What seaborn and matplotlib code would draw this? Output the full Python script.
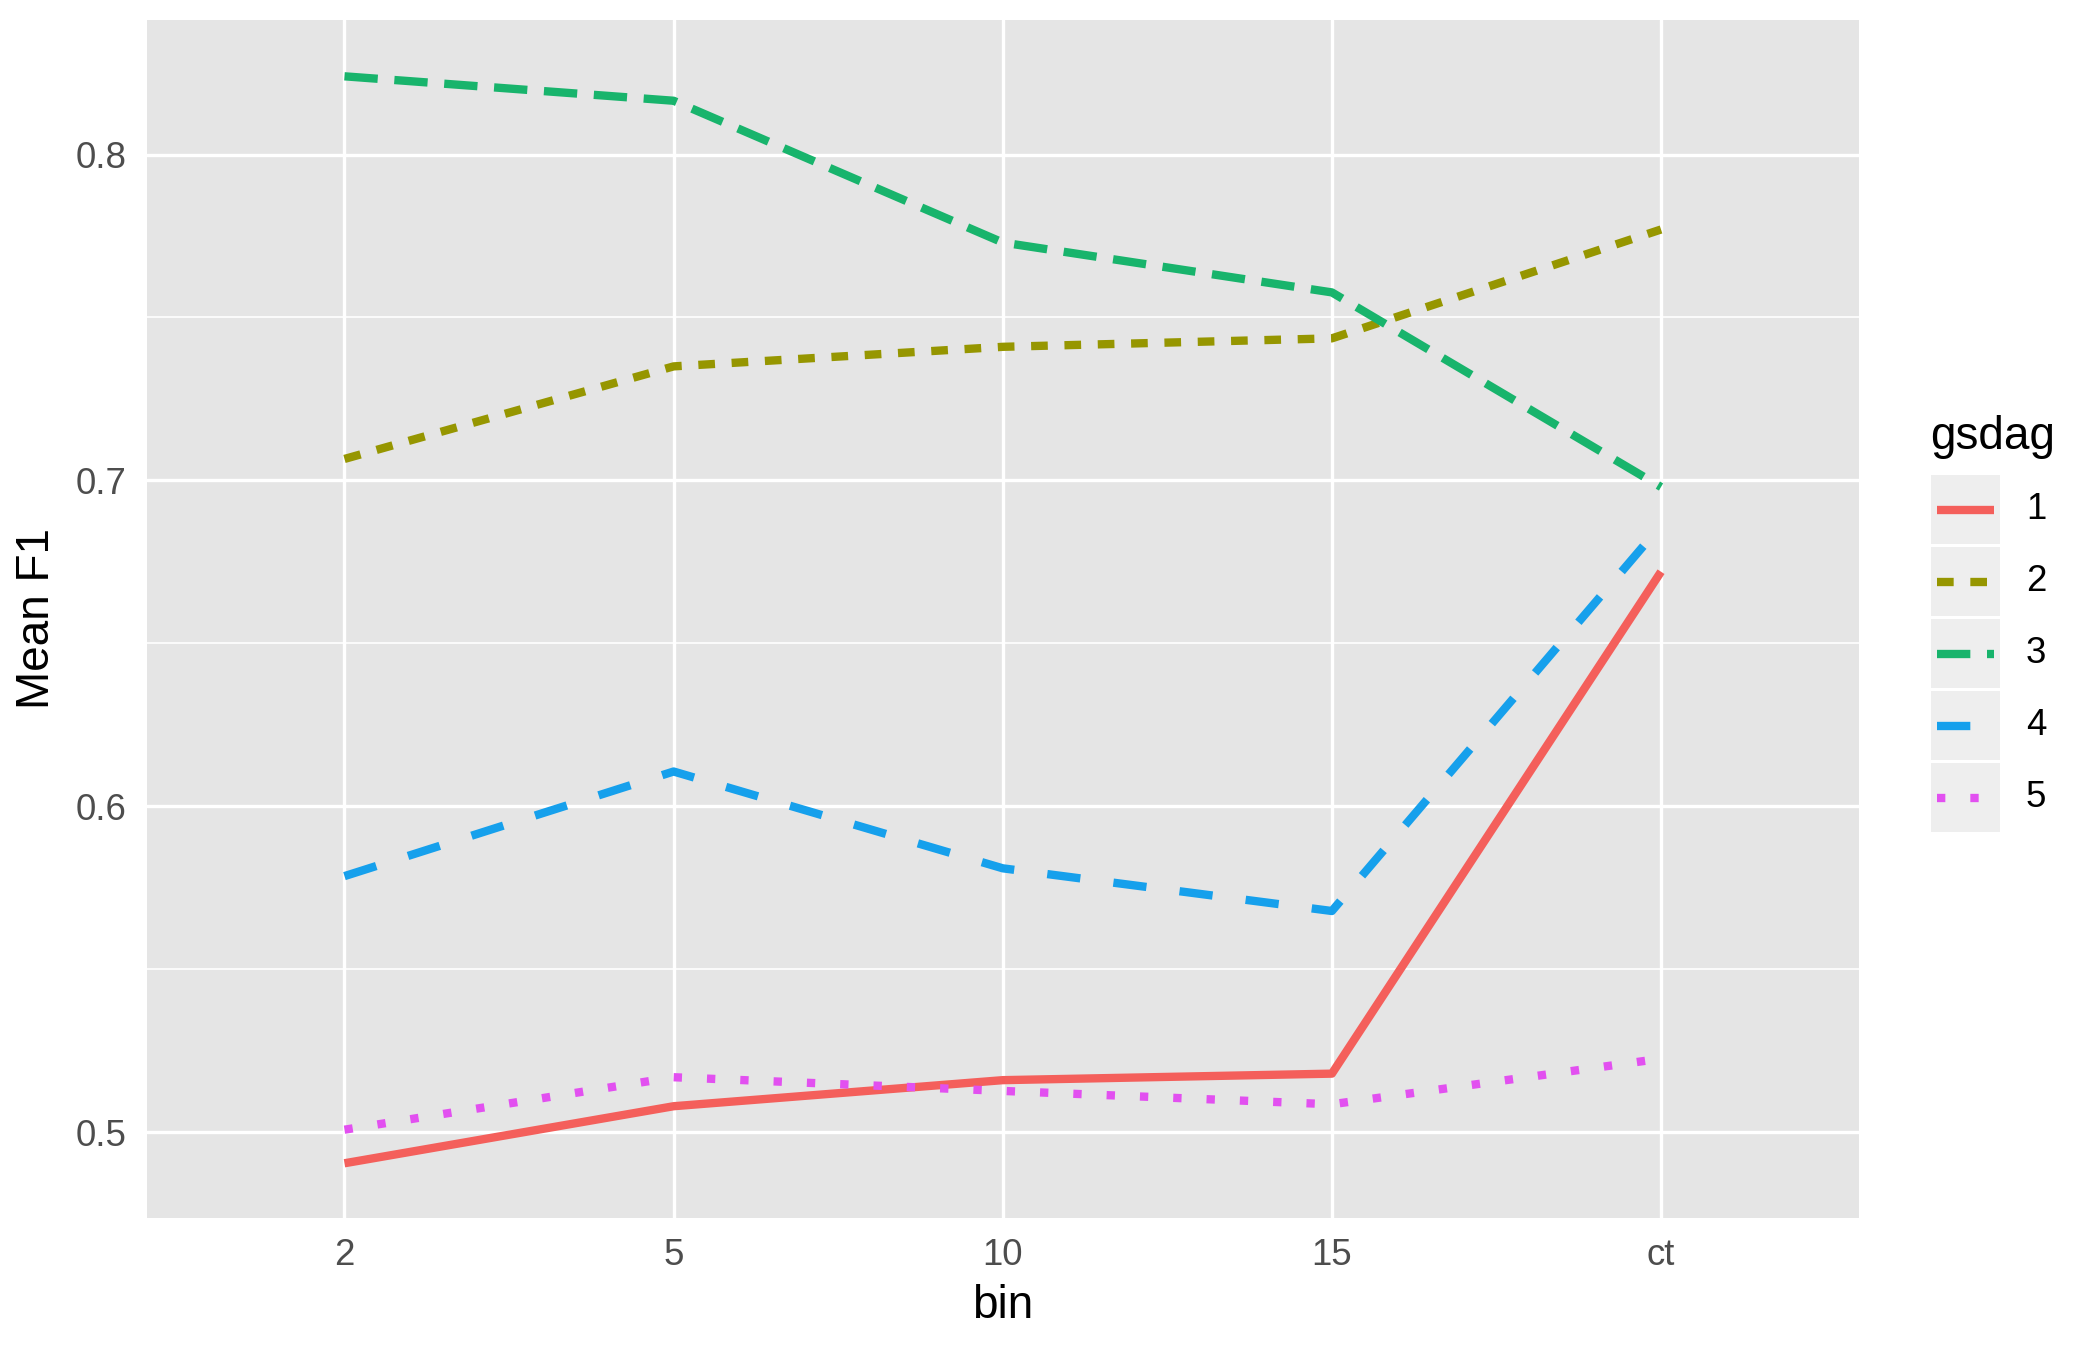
import matplotlib
matplotlib.use("Agg")
import matplotlib.pyplot as plt
import numpy as np
import pandas as pd
import seaborn as sns
from matplotlib.lines import Line2D
from matplotlib.patches import Rectangle
from matplotlib.ticker import FixedLocator

# ------------------------------------------------------------
# Data
# ------------------------------------------------------------
bins = ["2", "5", "10", "15", "ct"]
groups = ["1", "2", "3", "4", "5"]

f1_g1 = [0.4905, 0.5080, 0.5160, 0.5180, 0.6720]
f1_g2 = [0.7066, 0.7350, 0.7410, 0.7436, 0.7770]
f1_g3 = [0.8240, 0.8165, 0.7730, 0.7577, 0.6980]
f1_g4 = [0.5786, 0.6107, 0.5810, 0.5679, 0.6862]
f1_g5 = [0.5008, 0.5169, 0.5127, 0.5086, 0.5226]

colors = ["#F45F5B", "#969600", "#18B46C", "#16A0EC", "#E250F0"]
# ggplot default linetypes: solid, "22", "42", "44", "13"
dashes = ["", (2, 2), (4, 2), (4, 4), (1, 3)]

df = pd.DataFrame({
    "bin": bins * 5,
    "gsdag": np.repeat(groups, len(bins)),
    "f1": f1_g1 + f1_g2 + f1_g3 + f1_g4 + f1_g5,
})

LW = 2.0
W, H = 2100, 1350
PANEL = "#E5E5E5"
KEY_BG = "#EEEEEE"

# ------------------------------------------------------------
# Plot
# ------------------------------------------------------------
sns.set_theme(style="darkgrid")
plt.rcParams["font.family"] = ["Liberation Sans", "DejaVu Sans"]

fig = plt.figure(figsize=(7, 4.5), dpi=300)
ax = fig.add_axes([0.070, 0.098, 0.815, 0.887])
ax.set_facecolor(PANEL)

palette = dict(zip(groups, colors))
dash_map = dict(zip(groups, dashes))

sns.lineplot(
    data=df, x="bin", y="f1", hue="gsdag", style="gsdag",
    palette=palette, dashes=dash_map, linewidth=LW,
    sort=False, legend=False, ax=ax,
)
for ln in ax.lines:
    ln.set_solid_capstyle("butt")
    ln.set_dash_capstyle("butt")

ax.set_xlim(-0.6, len(bins) - 0.4)
ax.set_ylim(0.4738, 0.8412)
ax.yaxis.set_major_locator(FixedLocator([0.5, 0.6, 0.7, 0.8]))
ax.yaxis.set_minor_locator(FixedLocator([0.55, 0.65, 0.75]))
ax.set_yticklabels(["0.5", "0.6", "0.7", "0.8"])

ax.grid(which="major", color="white", linewidth=0.8)
ax.grid(which="minor", axis="y", color="white", linewidth=0.4)
ax.set_axisbelow(True)
for s in ax.spines.values():
    s.set_visible(False)

ax.tick_params(axis="both", which="major", length=2.75, width=0.55,
               color="#333333", labelcolor="#4D4D4D", labelsize=8.8, pad=2.2)
ax.tick_params(axis="both", which="minor", length=0)

ax.set_xlabel("bin", fontsize=11, color="black", labelpad=2.5)
ax.set_ylabel("Mean F1", fontsize=11, color="black", labelpad=4)

# ------------------------------------------------------------
# Legend, ggplot style (grey key boxes), placed in figure pixels
# ------------------------------------------------------------
tf = fig.transFigure
fig.text(1930 / W, 1 - 437 / H, "gsdag", fontsize=11, color="black",
         ha="left", va="center", transform=tf)

key_x, key_w, key_h, key_top, pitch = 1931, 69, 69, 475, 72
for i, (g, c, d) in enumerate(zip(groups, colors, dashes)):
    y0 = key_top + pitch * i
    fig.patches.append(Rectangle(
        (key_x / W, 1 - (y0 + key_h) / H), key_w / W, key_h / H,
        facecolor=KEY_BG, edgecolor="none", transform=tf))
    yc = 1 - (y0 + key_h / 2) / H
    fig.lines.append(Line2D(
        [(key_x + 6) / W, (key_x + key_w - 6) / W], [yc, yc],
        color=c, linewidth=LW, linestyle="-" if d == "" else (0, d),
        dash_capstyle="butt", solid_capstyle="butt", transform=tf))
    fig.text(2026 / W, yc, g, fontsize=8.8, color="black",
             ha="left", va="center", transform=tf)

fig.savefig("out.png", dpi=300)
